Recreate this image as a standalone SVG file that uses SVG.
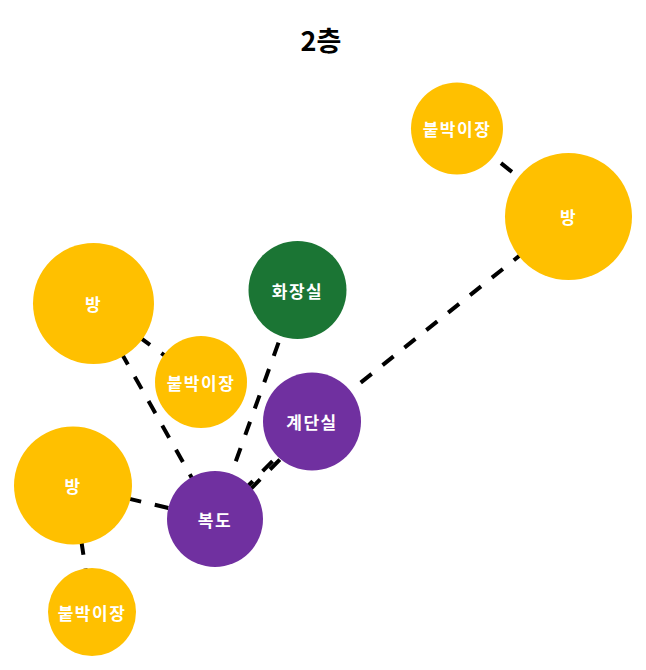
<svg xmlns="http://www.w3.org/2000/svg" width="646" height="670" viewBox="0 0 646 670">
<style>
.edge{stroke:#000;stroke-width:4;stroke-dasharray:14 14;fill:none}
.y{fill:#FFC000}
.g{fill:#1B7534}
.p{fill:#7030A0}
.lbl{font-family:"Noto Sans CJK KR","Noto Sans",sans-serif;font-weight:bold;font-size:17px;letter-spacing:1.5px;fill:#fff;text-anchor:middle;dominant-baseline:central}
.title{font-family:"Noto Sans CJK KR","Noto Sans",sans-serif;font-weight:bold;font-size:27px;fill:#000;text-anchor:middle}
</style>
<rect width="646" height="670" fill="#fff"/>
<text class="title" x="321" y="51">2층</text>
<g id="connectors">
<line class="edge" x1="457" y1="128.5" x2="568.5" y2="216.5"/>
<line class="edge" x1="568.5" y1="216.5" x2="312" y2="421.5"/>
<line class="edge" x1="93.5" y1="303.5" x2="201" y2="382"/>
<line class="edge" x1="93.5" y1="303.5" x2="215" y2="519"/>
<line class="edge" x1="297.5" y1="290" x2="215" y2="519"/>
<line class="edge" x1="312" y1="421.5" x2="215" y2="519"/>
<line class="edge" x1="315" y1="424" x2="218" y2="522" stroke-dashoffset="6"/>
<line class="edge" x1="73" y1="485.5" x2="215" y2="519"/>
<line class="edge" x1="73" y1="485.5" x2="92" y2="612"/>
</g>
<g id="n1"><circle class="y" cx="457" cy="128.5" r="46"/><text class="lbl" x="457" y="128.5">붙박이장</text></g>
<g id="n2"><circle class="y" cx="568.5" cy="216.5" r="63.5"/><text class="lbl" x="568.5" y="216.5">방</text></g>
<g id="n3"><circle class="y" cx="93.5" cy="303.5" r="60.5"/><text class="lbl" x="93.5" y="303.5">방</text></g>
<g id="n4"><circle class="g" cx="297.5" cy="290" r="49"/><text class="lbl" x="297.5" y="290">화장실</text></g>
<g id="n5"><circle class="y" cx="201" cy="382" r="46"/><text class="lbl" x="201" y="382">붙박이장</text></g>
<g id="n6"><circle class="p" cx="312" cy="421.5" r="49"/><text class="lbl" x="312" y="421.5">계단실</text></g>
<g id="n7"><circle class="y" cx="73" cy="485.5" r="59"/><text class="lbl" x="73" y="485.5">방</text></g>
<g id="n8"><circle class="p" cx="215" cy="519" r="48"/><text class="lbl" x="215" y="519">복도</text></g>
<g id="n9"><circle class="y" cx="92" cy="612" r="44"/><text class="lbl" x="92" y="612">붙박이장</text></g>
</svg>
